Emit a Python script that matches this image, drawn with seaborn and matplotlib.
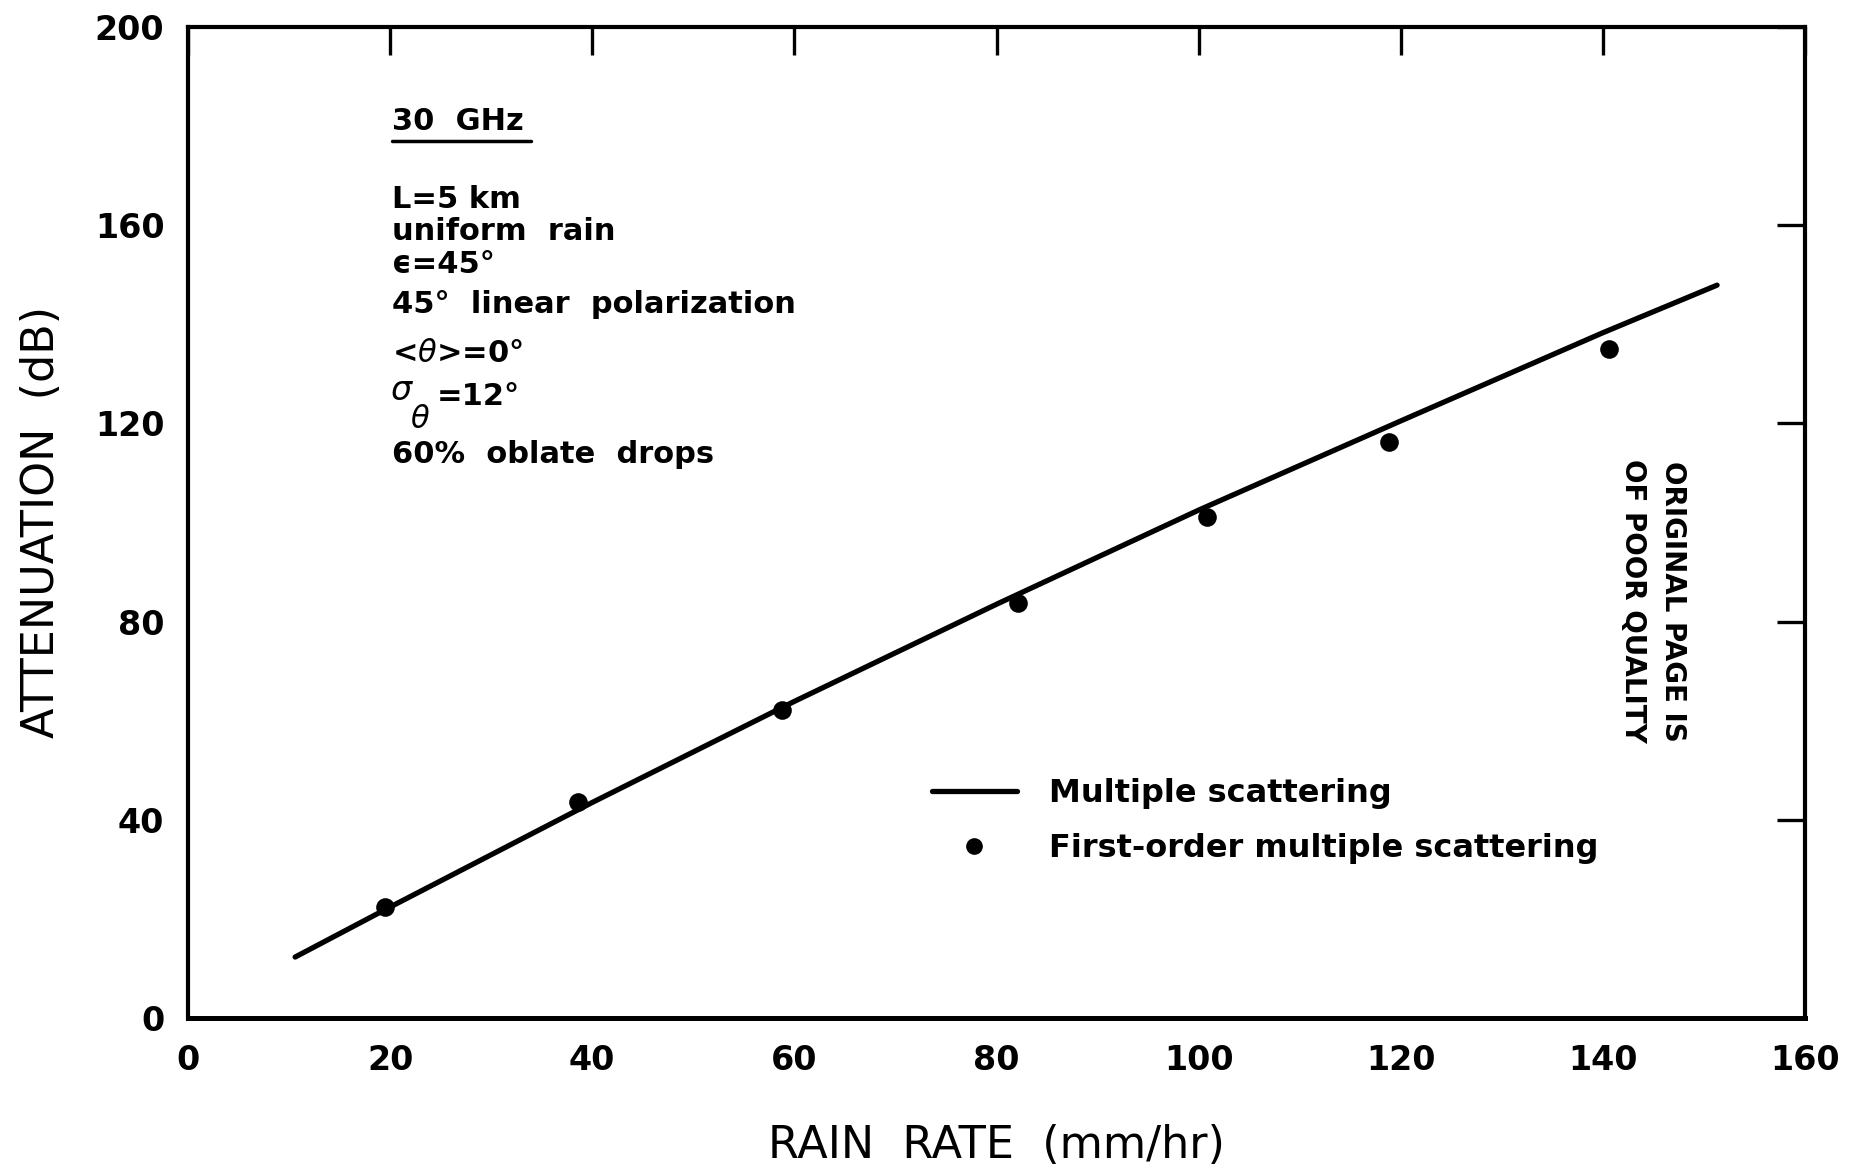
import matplotlib
matplotlib.use("Agg")
import matplotlib.pyplot as plt
import matplotlib.lines as mlines
import seaborn as sns
import pandas as pd

# Multiple-scattering attenuation curve (30 GHz, 5 km path)
rain_rate_curve = [10.6, 20, 40, 60, 80, 100, 120, 140, 151.3]
atten_multiple = [12.3, 22.4, 43.5, 63.9, 83.5, 102.5, 120.5, 138.3, 147.9]

# First-order multiple-scattering results
rain_rate_points = [19.5, 38.6, 58.8, 82.1, 100.8, 118.8, 140.6]
atten_first_order = [22.4, 43.5, 62.2, 83.7, 101.1, 116.3, 135.0]

x_ticks = [0, 20, 40, 60, 80, 100, 120, 140, 160]
y_ticks = [0, 40, 80, 120, 160, 200]

conditions = [
    "L=5 km",
    "uniform  rain",
    "\u03f5=45\u00b0",
    "45\u00b0  linear  polarization",
    "<$\\theta$>=0\u00b0",
    None,  # sigma line is drawn piecewise below
    "60%  oblate  drops",
]

sns.set_style("white")
plt.rcParams["font.family"] = ["DejaVu Sans"]
plt.rcParams["mathtext.fontset"] = "dejavusans"
plt.rcParams["text.color"] = "black"
plt.rcParams["axes.labelcolor"] = "black"

W, H = 1850, 1169
fig = plt.figure(figsize=(W / 100, H / 100), dpi=100)
ax = fig.add_axes([188 / W, 1 - 1018 / H, (1805 - 188) / W, (1018 - 27) / H])

curve = pd.DataFrame({"rate": rain_rate_curve, "atten": atten_multiple})
pts = pd.DataFrame({"rate": rain_rate_points, "atten": atten_first_order})

sns.lineplot(data=curve, x="rate", y="atten", ax=ax, color="black",
             linewidth=3.8, solid_capstyle="round", solid_joinstyle="round",
             label="Multiple scattering")
sns.scatterplot(data=pts, x="rate", y="atten", ax=ax, color="black",
                s=180, edgecolor="black", linewidth=0,
                label="First-order multiple scattering")

ax.set_xlim(0, 160)
ax.set_ylim(0, 200)
ax.set_xticks(x_ticks)
ax.set_yticks(y_ticks)
ax.set_xticklabels([str(v) for v in x_ticks], fontweight="bold")
ax.set_yticklabels([str(v) for v in y_ticks], fontweight="bold")

for sp in ax.spines.values():
    sp.set_visible(True)
    sp.set_color("black")
    sp.set_linewidth(3.0)
ax.spines["bottom"].set_linewidth(3.6)

ax.tick_params(axis="both", which="major", direction="in", length=20,
               width=2.4, color="black", top=True, right=True,
               labelsize=24, labelcolor="black")
ax.tick_params(axis="x", pad=19)
ax.tick_params(axis="y", pad=17)

ax.set_xlabel("RAIN  RATE  (mm/hr)", fontsize=32, va="center")
ax.set_ylabel("ATTENUATION  (dB)", fontsize=32, va="center")
ax.xaxis.set_label_coords(0.5, (1018 - 1145) / (1018 - 27))
ax.yaxis.set_label_coords((41 - 188) / (1805 - 188), 0.5)

# Legend
handles = [
    mlines.Line2D([], [], color="black", linewidth=3.8),
    mlines.Line2D([], [], color="black", marker="o", linestyle="none",
                  markersize=11),
]
ax.legend(handles, ["Multiple scattering", "First-order multiple scattering"],
          loc="center left", bbox_to_anchor=(932 / W, 1 - 821 / H),
          bbox_transform=fig.transFigure, frameon=False,
          prop={"size": 23, "weight": "bold"}, handlelength=2.65,
          handletextpad=1.0, labelspacing=0.74, borderpad=0,
          borderaxespad=0)


def fig_text(px, py, s, **kw):
    fig.text(px / W, 1 - py / H, s, **kw)


# Frequency heading with underline
fig_text(392, 130, "30  GHz", fontsize=22, fontweight="bold", va="baseline",
         ha="left")
fig.add_artist(mlines.Line2D([392 / W, 531 / W], [1 - 141 / H, 1 - 141 / H],
                             color="black", linewidth=2.5))

baselines = [208, 240, 273, 313, 362, 403, 463]
for yb, line in zip(baselines, conditions):
    if line is None:
        continue
    fig_text(392, yb, line, fontsize=22, fontweight="bold", va="baseline",
             ha="left")

# sigma with a large, dropped theta subscript
fig_text(390, 400, "$\\sigma$", fontsize=24, va="baseline", ha="left")
fig_text(410, 428, "$\\theta$", fontsize=22, va="baseline", ha="left")
fig_text(437, 405, "=12\u00b0", fontsize=22, fontweight="bold",
         va="baseline", ha="left")

# Stamp at right edge
stamp_font = ["DejaVu Sans Condensed", "Liberation Sans Narrow", "DejaVu Sans"]
fig_text(1673, 601, "ORIGINAL PAGE IS", fontsize=20, fontweight="bold",
         rotation=-90, ha="center", va="center", family=stamp_font)
fig_text(1633, 601, "OF POOR QUALITY", fontsize=20, fontweight="bold",
         rotation=-90, ha="center", va="center", family=stamp_font)

fig.savefig("out.png", dpi=100, facecolor="white")
